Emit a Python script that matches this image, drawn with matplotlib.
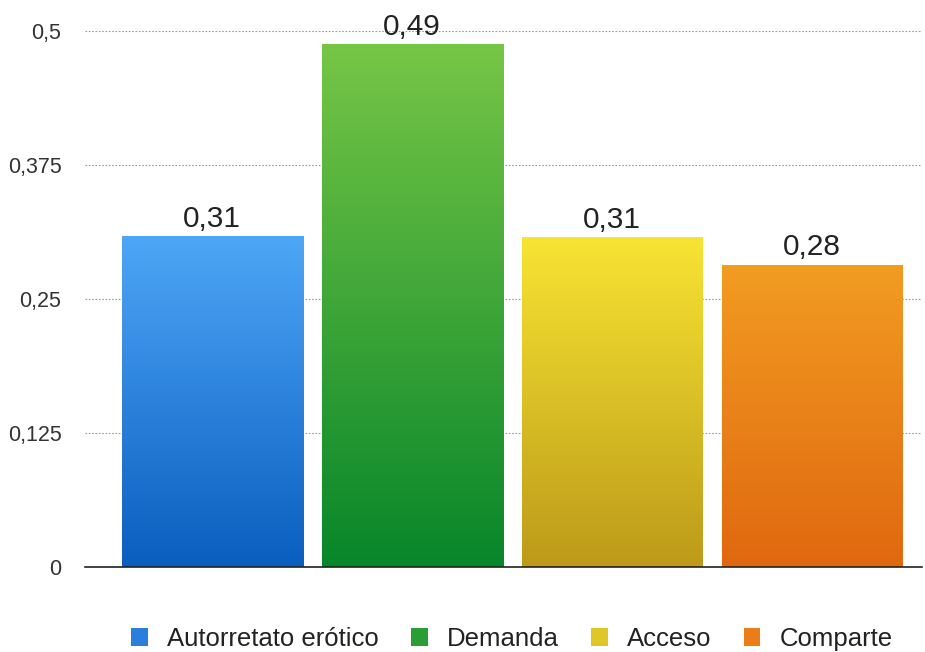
import matplotlib
matplotlib.use("Agg")
import matplotlib.pyplot as plt
import numpy as np
from matplotlib.colors import LinearSegmentedColormap
from matplotlib.patches import Patch

categories = ["Autorretato erótico", "Demanda", "Acceso", "Comparte"]
values = [0.308, 0.487, 0.307, 0.281]
value_labels = ["0,31", "0,49", "0,31", "0,28"]
yticks = [0, 0.125, 0.25, 0.375, 0.5]
ytick_labels = ["0", "0,125", "0,25", "0,375", "0,5"]
top_colors = ["#4ea6f6", "#76c646", "#f7e432", "#f29c22"]
bottom_colors = ["#0a5ebf", "#07862a", "#bd9a1a", "#e0680f"]
legend_colors = ["#2b7fdc", "#2a9e35", "#e0c626", "#ea7d18"]

plt.rcParams['font.family'] = ['Liberation Sans', 'DejaVu Sans']

fig = plt.figure(figsize=(9.25, 6.52), dpi=100)
ax = fig.add_axes([85/925, 85/652, (922-85)/925, (621-85)/652])

x = np.arange(len(categories))
width = 0.905
bars = ax.bar(x, values, width=width, color="none", edgecolor="none", zorder=3)
grad = np.linspace(0, 1, 256).reshape(-1, 1)
for b, tc, bc in zip(bars, top_colors, bottom_colors):
    cmap = LinearSegmentedColormap.from_list("g", [bc, tc])
    x0, y0 = b.get_x(), b.get_y()
    w, h = b.get_width(), b.get_height()
    ax.imshow(grad, cmap=cmap, aspect="auto", origin="lower",
              extent=[x0, x0 + w, y0, y0 + h], zorder=3)
for xi, v, lab in zip(x, values, value_labels):
    ax.text(xi, v + 0.004, lab, ha="center", va="bottom", fontsize=21.5, color="#222222", zorder=4)

ax.set_xlim(-0.635, 3.55)
ax.set_ylim(0, 0.5)
ax.set_yticks(yticks)
ax.set_yticklabels(ytick_labels, fontsize=15.5, color="#333333")
ax.set_xticks([])
ax.tick_params(axis="y", length=0, pad=17)
ax.yaxis.grid(True, linestyle=(0, (1.5, 1.5)), color="#999999", linewidth=0.8, zorder=0)
ax.set_axisbelow(True)
for s in ["top", "right", "left"]:
    ax.spines[s].set_visible(False)
ax.spines["bottom"].set_color("#222222")
ax.spines["bottom"].set_linewidth(1.2)
ax.spines["bottom"].set_zorder(5)

handles = [Patch(facecolor=c, edgecolor="none") for c in legend_colors]
fig.legend(handles, categories, loc="center", bbox_to_anchor=(512/925, 1 - 639/652),
           ncol=4, frameon=False, fontsize=18.5, handlelength=0.65, handleheight=0.65,
           handletextpad=0.75, columnspacing=1.25, labelcolor="#222222")

fig.savefig("out.png", dpi=100)
